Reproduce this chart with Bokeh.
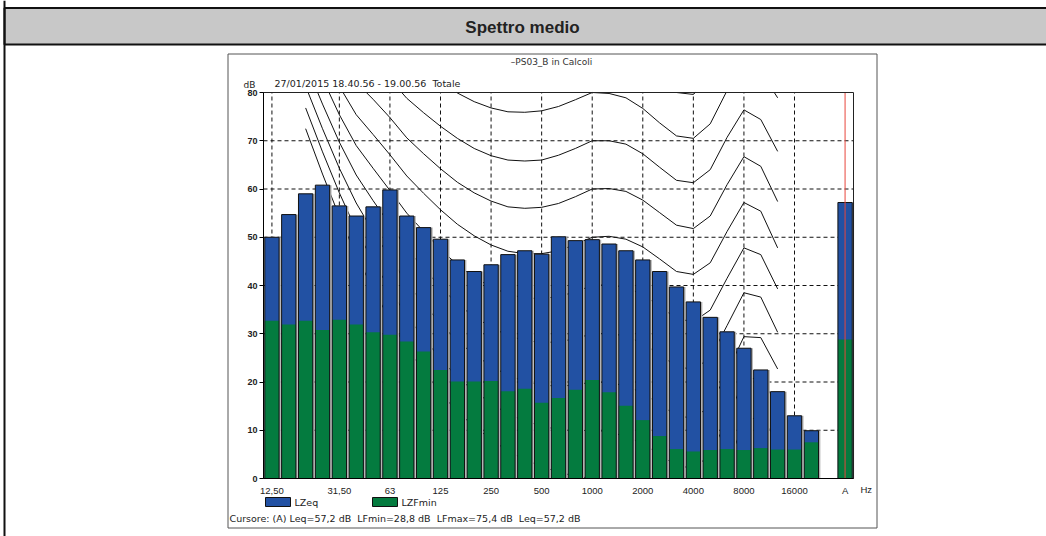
from bokeh.plotting import figure
from bokeh.models import Range1d, FixedTicker, Label, LinearAxis
from bokeh.embed import file_html
from bokeh.resources import INLINE

# ---------------- data ----------------
bands = ["12,5", "16", "20", "25", "31,5", "40", "50", "63", "80", "100", "125", "160",
         "200", "250", "315", "400", "500", "630", "800", "1000", "1250", "1600", "2000",
         "2500", "3150", "4000", "5000", "6300", "8000", "10000", "12500", "16000", "20000", "A"]
lzeq = [50.0, 54.7, 59.0, 60.8, 56.5, 54.4, 56.3, 59.8, 54.4, 52.0, 49.6, 45.3,
        42.9, 44.3, 46.4, 47.2, 46.5, 50.1, 49.3, 49.5, 48.6, 47.2, 45.3,
        42.9, 39.7, 36.6, 33.4, 30.4, 27.0, 22.5, 18.0, 13.0, 9.9, 57.2]
lzfmin = [32.7, 31.9, 32.7, 30.8, 32.9, 31.9, 30.3, 29.8, 28.4, 26.3, 22.5, 20.1,
          20.1, 20.2, 18.1, 18.6, 15.7, 16.7, 18.4, 20.4, 17.9, 15.1, 12.1,
          8.8, 6.1, 5.6, 5.9, 6.1, 5.9, 6.3, 6.0, 6.0, 7.5, 28.8]
tick_bands = ["12,5", "31,5", "63", "125", "250", "500", "1000", "2000", "4000", "8000", "16000", "A"]
tick_labels = ["12,50", "31,50", "63", "125", "250", "500", "1000", "2000", "4000", "8000", "16000", "A"]
y_ticks = [0, 10, 20, 30, 40, 50, 60, 70, 80]

# equal-loudness contours (20 Hz ... 12500 Hz)
contour_bands = bands[2:31]
phon_0 = [72.5, 63.1, 54.3, 46.2, 39.3, 32.9, 27.0, 22.3, 17.8, 13.8, 10.8, 8.1, 5.7, 3.9, 2.5,
          1.3, 0.5, 0.0, -0.7, -1.9, -3.5, -5.7, -8.1, -8.3, -5.4, 2.5, 11.6, 13.1, 7.5]
phon_10 = [76.8, 67.7, 59.2, 51.5, 45.1, 39.2, 33.7, 29.1, 24.8, 21.0, 18.1, 15.6, 13.4, 11.9, 10.9,
           10.1, 9.9, 10.0, 9.7, 8.7, 7.2, 5.0, 2.6, 2.2, 4.8, 12.2, 20.4, 21.0, 15.0]
phon_20 = [81.3, 72.5, 64.3, 57.1, 51.2, 45.8, 40.5, 36.2, 32.1, 28.5, 25.7, 23.3, 21.4, 20.1, 19.4,
           19.1, 19.4, 20.0, 19.9, 19.2, 17.7, 15.4, 13.0, 12.5, 15.0, 22.0, 29.4, 29.2, 22.7]
phon_30 = [86.0, 77.6, 69.7, 62.9, 57.6, 52.6, 47.7, 43.5, 39.7, 36.2, 33.5, 31.4, 29.6, 28.6, 28.2,
           28.3, 29.0, 30.0, 30.1, 29.5, 28.0, 25.7, 23.2, 22.6, 25.0, 31.7, 38.5, 37.6, 30.3]
phon_40 = [91.0, 82.9, 75.4, 69.0, 64.3, 59.7, 55.0, 51.2, 47.5, 44.3, 41.7, 39.7, 38.2, 37.4, 37.3,
           37.7, 38.7, 40.0, 40.2, 39.6, 38.1, 35.7, 33.1, 32.5, 34.9, 41.5, 47.8, 46.4, 39.3]
phon_50 = [96.2, 88.5, 81.3, 75.4, 71.3, 67.1, 62.7, 59.1, 55.7, 52.7, 50.3, 48.4, 47.1, 46.6, 46.6,
           47.2, 48.5, 50.0, 50.2, 49.6, 48.0, 45.5, 42.9, 42.3, 44.7, 51.2, 57.2, 55.4, 47.8]
phon_60 = [101.7, 94.4, 87.6, 82.1, 78.6, 74.8, 70.6, 67.3, 64.2, 61.4, 59.2, 57.5, 56.3, 56.0, 56.2,
           57.0, 58.4, 60.0, 60.1, 59.5, 57.7, 55.1, 52.5, 51.8, 54.4, 60.9, 66.7, 64.7, 57.4]
phon_70 = [107.6, 100.7, 94.3, 89.2, 86.4, 82.8, 78.8, 75.8, 73.0, 70.5, 68.4, 66.9, 66.0, 65.8, 66.0,
           67.0, 68.4, 70.0, 70.0, 69.3, 67.3, 64.5, 61.8, 61.3, 64.0, 70.7, 76.4, 74.4, 67.8]
phon_80 = [113.7, 107.3, 101.3, 96.6, 94.6, 91.1, 87.4, 84.7, 82.2, 79.9, 78.1, 76.8, 76.0, 75.9, 76.2,
           77.1, 78.5, 80.0, 79.8, 78.9, 76.7, 73.7, 71.0, 70.5, 73.5, 80.4, 86.3, 84.4, 78.9]
phon_90 = [120.3, 114.4, 108.7, 104.4, 103.2, 99.8, 96.3, 94.0, 91.8, 89.8, 88.1, 87.0, 86.4, 86.4, 86.6,
           87.5, 88.7, 90.0, 89.5, 88.4, 85.9, 82.7, 80.0, 79.6, 82.9, 90.1, 96.3, 94.8, 88.1]
contours = [phon_0, phon_10, phon_20, phon_30, phon_40, phon_50, phon_60, phon_70, phon_80, phon_90]

# ---------------- positions ----------------
def pos_of(b):
    i = bands.index(b)
    return i if b != "A" else i + 1   # one empty slot before the A-weighted total

xpos = [pos_of(b) for b in bands]
cx = [pos_of(b) for b in contour_bands]
ticks = [pos_of(b) for b in tick_bands]

XLO, XHI = -0.5, 34.5
YLO, YHI = y_ticks[0], y_ticks[-1]

BLUE = "#2251a3"
GREEN = "#047b3f"
FONT = "Liberation Sans"
SMALL = "DejaVu Sans"
NB = "\u00a0"

# canvas layout (pixels); the frame covers the whole canvas, the plot area is a sub-rectangle
W, H = 1046, 536
PL, PR, PT, PB = 263, 853, 92, 478
SX = (PR - PL) / (XHI - XLO)
SY = (PB - PT) / (YHI - YLO)

def dx(px):
    return XLO + (px - PL) / SX

def dy(py):
    return YLO + (PB - py) / SY

p = figure(width=W, height=H, output_backend="svg", toolbar_location=None, title=None,
           x_range=Range1d(dx(0), dx(W)), y_range=Range1d(dy(H), dy(0)),
           x_axis_location=None, y_axis_location=None, tools="",
           min_border_left=0, min_border_right=0, min_border_top=0, min_border_bottom=0)
p.background_fill_color = "white"
p.border_fill_color = "white"
p.outline_line_color = None
p.grid.visible = False

# ---------------- decorations (page frame) ----------------
p.quad(left=dx(4), right=dx(W + 5), top=dy(7.5), bottom=dy(44), fill_color="#c8c8c8",
       line_color="#111111", line_width=2)
p.segment(x0=dx(4), y0=dy(0), x1=dx(4), y1=dy(H), line_color="#111111", line_width=2)
p.add_layout(Label(x=dx(522), y=dy(27), text="Spettro medio", text_align="center",
                   text_baseline="middle", text_font_size="17px", text_font=FONT,
                   text_font_style="bold", text_color="#222222"))
p.quad(left=dx(227.5), right=dx(876.5), top=dy(53.5), bottom=dy(527.5), fill_color=None,
       line_color="#555555", line_width=1)

def label(px, py, text, size="9.5px", align="left", color="#222222", font=SMALL):
    p.add_layout(Label(x=dx(px), y=dy(py), text=text, text_align=align, text_baseline="middle",
                       text_font_size=size, text_color=color, text_font=font))

label(551, 61, "\u2013PS03_B in Calcoli", size="9px", align="center", color="#333333")
label(243, 84, "dB", size="9px")
label(274, 83, "27/01/2015 18.40.56 - 19.00.56" + NB + NB + "Totale", size="9.5px")
label(860, 489, "Hz", size="9.5px", font=FONT)
label(229, 518, "Cursore: (A) Leq=57,2 dB" + NB + NB + "LFmin=28,8 dB" + NB + NB + "LFmax=75,4 dB"
      + NB + NB + "Leq=57,2 dB", size="9.5px")

# legend
p.quad(left=dx(265), right=dx(290), top=dy(497), bottom=dy(506), fill_color=BLUE, line_color="#111111")
label(294, 502, "LZeq")
p.quad(left=dx(372), right=dx(397), top=dy(497), bottom=dy(506), fill_color=GREEN, line_color="#111111")
label(401, 502, "LZFmin")

# ---------------- plot area ----------------
gx = ticks[:-1]
p.segment(x0=gx, y0=[YLO] * len(gx), x1=gx, y1=[YHI] * len(gx),
          line_color="#111111", line_dash="4 3", line_width=1)
gy = y_ticks[1:-1]
p.segment(x0=[XLO] * len(gy), y0=gy, x1=[XHI] * len(gy), y1=gy,
          line_color="#111111", line_dash="4 3", line_width=1)

def clip_line(xs, ys, lo, hi):
    pieces, cur = [], []
    for k in range(len(xs) - 1):
        x0, y0, x1, y1 = xs[k], ys[k], xs[k + 1], ys[k + 1]
        t0, t1 = 0.0, 1.0
        dyv = y1 - y0
        ok = True
        for pp, qq in ((-dyv, y0 - lo), (dyv, hi - y0)):
            if pp == 0:
                if qq < 0:
                    ok = False
            else:
                r = qq / pp
                if pp < 0:
                    t0 = max(t0, r)
                else:
                    t1 = min(t1, r)
        if not ok or t0 > t1:
            if cur:
                pieces.append(cur)
                cur = []
            continue
        a = (x0 + t0 * (x1 - x0), y0 + t0 * dyv)
        b = (x0 + t1 * (x1 - x0), y0 + t1 * dyv)
        if cur and abs(cur[-1][0] - a[0]) < 1e-9 and abs(cur[-1][1] - a[1]) < 1e-9:
            cur.append(b)
        else:
            if cur:
                pieces.append(cur)
            cur = [a, b]
    if cur:
        pieces.append(cur)
    return pieces

mxs, mys = [], []
for c in contours:
    for piece in clip_line(cx, c, YLO, YHI):
        mxs.append([q[0] for q in piece])
        mys.append([q[1] for q in piece])
p.multi_line(xs=mxs, ys=mys, line_color="#111111", line_width=1)

# bars
p.vbar(x=[x + 0.11 for x in xpos], top=lzeq, width=0.85, fill_color="#b4b4b4", line_color=None)
p.vbar(x=xpos, top=lzeq, width=0.85, fill_color=BLUE, line_color=None)
p.vbar(x=xpos, top=lzfmin, width=0.85, fill_color=GREEN, line_color=None)
p.vbar(x=xpos, top=lzeq, width=0.85, fill_color=None, line_color="#111111", line_width=1)

# cursor on A
p.segment(x0=[pos_of("A")], y0=[YLO], x1=[pos_of("A")], y1=[YHI], line_color="#e8463c", line_width=1)

# plot border
p.quad(left=[XLO], right=[XHI], bottom=[YLO], top=[YHI], fill_color=None,
       line_color="#222222", line_width=1)

# axes pinned to the plot area
yaxis = LinearAxis(fixed_location=XLO, bounds=(YLO, YHI), ticker=FixedTicker(ticks=y_ticks))
xaxis = LinearAxis(fixed_location=YLO, bounds=(XLO, XHI), ticker=FixedTicker(ticks=ticks),
                   major_label_overrides={t: l for t, l in zip(ticks, tick_labels)})
for ax in (xaxis, yaxis):
    ax.axis_line_color = "black"
    ax.axis_line_width = 1
    ax.minor_tick_line_color = None
    ax.major_label_text_font = FONT
    ax.major_label_text_color = "#222222"
xaxis.major_tick_line_color = None
xaxis.major_tick_out = 0
xaxis.major_tick_in = 0
xaxis.major_label_standoff = 6
xaxis.major_label_text_font_size = "9.5px"
yaxis.major_tick_out = 4
yaxis.major_tick_in = 0
yaxis.major_tick_line_color = "black"
yaxis.major_label_standoff = 2
yaxis.major_label_text_font_size = "9px"
yaxis.major_label_text_font_style = "bold"
p.add_layout(yaxis, "left")
p.add_layout(xaxis, "below")

open("out.html", "w").write(file_html(p, INLINE))
